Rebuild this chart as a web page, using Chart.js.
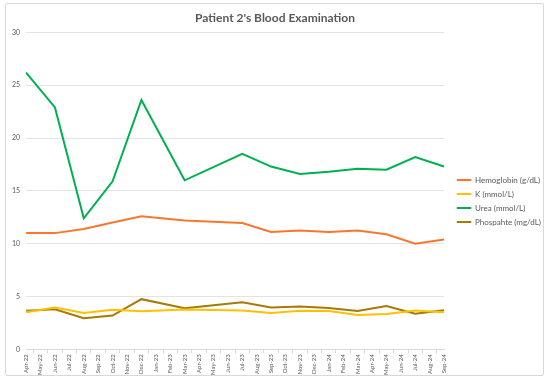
<!DOCTYPE html>
<html>
<head>
<meta charset="utf-8">
<script src="https://cdn.jsdelivr.net/npm/chart.js@4.4.1/dist/chart.umd.min.js"></script>
<style>
html,body{margin:0;padding:0;background:#fff;}
#wrap{position:absolute;left:0;top:0;width:550px;height:382px;}
#frame{position:absolute;left:5px;top:3px;width:539px;height:373px;border:1px solid #d9d9d9;border-radius:2px;box-sizing:border-box;pointer-events:none;}
</style>
</head>
<body>
<div id="wrap"><canvas id="c" width="550" height="382"></canvas><div id="frame"></div></div>
<script>
const months = ["Apr-22","May-22","Jun-22","Jul-22","Aug-22","Sep-22","Oct-22","Nov-22","Dec-22","Jan-23","Feb-23","Mar-23","Apr-23","May-23","Jun-23","Jul-23","Aug-23","Sep-23","Oct-23","Nov-23","Dec-23","Jan-24","Feb-24","Mar-24","Apr-24","May-24","Jun-24","Jul-24","Aug-24","Sep-24"];
const hemoglobin = [11.0,null,11.0,null,11.4,null,12.0,null,12.6,null,null,12.2,null,null,null,11.95,null,11.1,null,11.25,null,11.1,null,11.25,null,10.9,null,10.0,null,10.4];
const potassium  = [3.5,null,3.95,null,3.45,null,3.75,null,3.6,null,null,3.78,null,null,null,3.68,null,3.45,null,3.65,null,3.63,null,3.25,null,3.35,null,3.68,null,3.5];
const urea       = [26.2,null,22.9,null,12.4,null,15.9,null,23.6,null,null,16.0,null,null,null,18.5,null,17.3,null,16.6,null,16.8,null,17.1,null,17.0,null,18.2,null,17.3];
const phosphate  = [3.65,null,3.8,null,2.95,null,3.2,null,4.75,null,null,3.9,null,null,null,4.45,null,3.95,null,4.05,null,3.92,null,3.62,null,4.1,null,3.38,null,3.7];
const yTicks = [0,5,10,15,20,25,30];

const FONT = "Lato, 'Open Sans', sans-serif";
const TXT = "#595959";

function ds(label, data, color){
  return {label, data, borderColor: color, backgroundColor: color, borderWidth: 2,
          pointRadius: 0, pointHoverRadius: 0, tension: 0, spanGaps: true, fill: false};
}

const shiftPlugin = {
  id: 'shift',
  afterLayout(chart){
    if (chart.legend) {
      chart.legend.left += 7; chart.legend.right += 7;
      chart.legend.top += 9; chart.legend.bottom += 9;
    }
  }
};

new Chart(document.getElementById('c'), {
  type: 'line',
  data: {
    labels: months,
    datasets: [
      ds("Hemoglobin (g/dL)", hemoglobin, "#F7782C"),
      ds("K (mmol/L)", potassium, "#FFC000"),
      ds("Urea (mmol/L)", urea, "#00B050"),
      ds("Phospahte (mg/dL)", phosphate, "#A57A06")
    ]
  },
  plugins: [shiftPlugin],
  options: {
    responsive: false,
    animation: false,
    events: [],
    layout: {padding: {left: 6, right: 6, top: 8, bottom: 6}},
    plugins: {
      title: {display: true, text: "Patient 2's Blood Examination", color: TXT,
              font: {family: FONT, size: 12, weight: 'bold'}, padding: {top: 3, bottom: 7}},
      legend: {position: 'right', align: 'center',
        labels: {color: TXT, font: {family: FONT, size: 8}, boxWidth: 14, boxHeight: 1, padding: 6,
          generateLabels(chart){
            const items = Chart.defaults.plugins.legend.labels.generateLabels(chart);
            items.forEach(i => { i.lineWidth = 1; });
            return items;
          }}},
      tooltip: {enabled: false}
    },
    scales: {
      x: {
        grid: {display: true, drawOnChartArea: false, drawTicks: true, tickLength: 4, offset: true, color: '#d9d9d9'},
        border: {display: true, color: '#d9d9d9'},
        ticks: {color: TXT, font: {family: FONT, size: 6}, minRotation: 90, maxRotation: 90, autoSkip: false, padding: 1}
      },
      y: {
        min: 0, max: 30,
        afterBuildTicks(axis){ axis.ticks = yTicks.map(v => ({value: v})); },
        grid: {color: '#e3e3e3', drawTicks: false},
        border: {display: false},
        ticks: {color: TXT, font: {family: FONT, size: 7}, padding: 6}
      }
    }
  }
});
</script>
</body>
</html>
